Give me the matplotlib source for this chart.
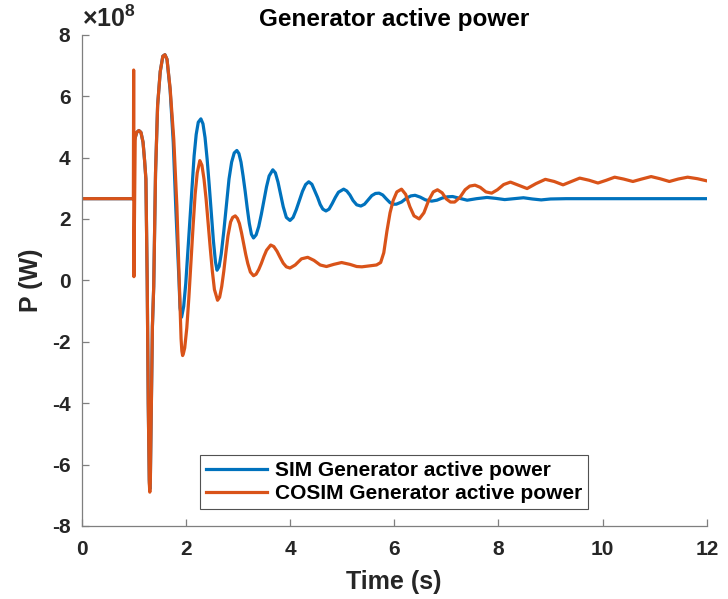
import numpy as np
import matplotlib
matplotlib.use("Agg")
import matplotlib.pyplot as plt
from matplotlib.ticker import FuncFormatter

plt.rcParams["font.family"] = ["Liberation Sans", "DejaVu Sans"]
plt.rcParams["font.weight"] = "bold"
plt.rcParams["axes.unicode_minus"] = False
plt.rcParams["mathtext.fontset"] = "custom"
plt.rcParams["mathtext.rm"] = "Liberation Sans:bold"
plt.rcParams["mathtext.bf"] = "Liberation Sans:bold"

# time (s) and active power (x1e8 W)
sim_t = [0.0, 1.0, 1.005, 1.03, 1.06, 1.10, 1.14, 1.18, 1.21, 1.235, 1.26, 1.28, 1.30, 1.31, 1.32,
         1.34, 1.36, 1.385, 1.42, 1.46, 1.51, 1.56, 1.60, 1.64, 1.70, 1.76, 1.81, 1.87, 1.89, 1.92,
         1.96, 2.00, 2.04, 2.08, 2.12, 2.16, 2.20, 2.24, 2.29, 2.33, 2.37, 2.41, 2.45, 2.49, 2.53,
         2.57, 2.60, 2.64, 2.68, 2.73, 2.78, 2.83, 2.88, 2.93, 2.98, 3.02, 3.06, 3.10, 3.14, 3.18,
         3.22, 3.26, 3.30, 3.35, 3.40, 3.45, 3.50, 3.55, 3.60, 3.67, 3.72, 3.77, 3.82, 3.87, 3.93,
         4.00, 4.06, 4.12, 4.18, 4.24, 4.30, 4.36, 4.42, 4.48, 4.53, 4.58, 4.63, 4.69, 4.75, 4.81,
         4.87, 4.93, 5.03, 5.09, 5.15, 5.21, 5.28, 5.36, 5.43, 5.50, 5.57, 5.64, 5.71, 5.78, 5.85,
         5.92, 5.98, 6.04, 6.14, 6.23, 6.32, 6.40, 6.50, 6.60, 6.72, 6.82, 6.92, 7.02, 7.12, 7.24,
         7.40, 7.58, 7.78, 7.95, 8.12, 8.30, 8.48, 8.65, 8.82, 9.0, 9.3, 12.0]
sim_p = [2.66, 2.66, 4.5, 4.65, 4.82, 4.88, 4.82, 4.5, 3.9, 3.3, 0.0, -4.0, -6.5, -6.8, -6.5,
         -4.0, -1.5, -0.2, 3.5, 5.7, 6.8, 7.3, 7.35, 7.2, 6.2, 4.5, 2.3, 0.0, -0.9, -1.2,
         -0.85, -0.1, 0.95, 2.0, 3.1, 4.05, 4.75, 5.15, 5.26, 5.1, 4.65, 3.95, 3.1, 2.2, 1.3,
         0.6, 0.33, 0.45, 0.85, 1.6, 2.45, 3.3, 3.85, 4.15, 4.23, 4.13, 3.85, 3.4, 2.9, 2.35,
         1.85, 1.5, 1.38, 1.48, 1.75, 2.15, 2.6, 3.05, 3.4, 3.6, 3.5, 3.2, 2.8, 2.4, 2.05,
         1.95, 2.05, 2.3, 2.6, 2.9, 3.12, 3.21, 3.13, 2.9, 2.7, 2.47, 2.32, 2.26, 2.32, 2.5,
         2.7, 2.87, 2.97, 2.91, 2.78, 2.6, 2.46, 2.42, 2.48, 2.62, 2.76, 2.83, 2.84, 2.78, 2.65,
         2.53, 2.48, 2.48, 2.55, 2.67, 2.75, 2.77, 2.71, 2.62, 2.58, 2.61, 2.68, 2.72, 2.73, 2.68,
         2.61, 2.66, 2.7, 2.67, 2.63, 2.66, 2.69, 2.65, 2.62, 2.65, 2.66, 2.66]

cosim_t = [0.0, 0.995, 1.0, 1.005, 1.03, 1.06, 1.10, 1.14, 1.18, 1.21, 1.235, 1.26, 1.28, 1.30,
           1.31, 1.32, 1.34, 1.36, 1.385, 1.42, 1.46, 1.51, 1.56, 1.60, 1.64, 1.70, 1.77, 1.83,
           1.88, 1.91, 1.925, 1.94, 1.955, 1.98, 2.02, 2.06, 2.10, 2.14, 2.18, 2.22, 2.27, 2.31,
           2.35, 2.39, 2.43, 2.47, 2.51, 2.55, 2.61, 2.65, 2.69, 2.73, 2.77, 2.81, 2.86, 2.90,
           2.95, 2.99, 3.03, 3.07, 3.11, 3.15, 3.19, 3.24, 3.30, 3.35, 3.40, 3.45, 3.50, 3.55,
           3.63, 3.69, 3.75, 3.81, 3.87, 3.93, 4.00, 4.10, 4.22, 4.34, 4.46, 4.58, 4.70, 4.84,
           4.99, 5.15, 5.28, 5.38, 5.52, 5.66, 5.74, 5.80, 5.86, 5.92, 5.98, 6.05, 6.14, 6.22,
           6.30, 6.38, 6.48, 6.57, 6.66, 6.75, 6.83, 6.92, 7.00, 7.08, 7.16, 7.26, 7.36, 7.45,
           7.55, 7.65, 7.76, 7.87, 7.98, 8.10, 8.23, 8.38, 8.55, 8.72, 8.90, 9.07, 9.24, 9.40,
           9.56, 9.74, 9.91, 10.07, 10.23, 10.40, 10.58, 10.75, 10.93, 11.10, 11.28, 11.45,
           11.63, 11.82, 12.0]
cosim_p = [2.66, 2.66, 6.85, 0.12, 4.65, 4.82, 4.88, 4.82, 4.5, 3.9, 3.3, 0.0, -4.0, -6.6,
           -6.9, -6.6, -4.0, -1.5, -0.2, 3.5, 5.7, 6.8, 7.3, 7.35, 7.2, 6.25, 4.6, 2.4,
           -0.3, -1.9, -2.3, -2.45, -2.38, -2.2, -1.55, -0.55, 0.6, 1.75, 2.8, 3.5, 3.9, 3.75,
           3.3, 2.65, 1.85, 1.05, 0.3, -0.3, -0.65, -0.55, -0.2, 0.3, 0.9, 1.45, 1.9, 2.05,
           2.1, 2.02, 1.85, 1.55, 1.2, 0.85, 0.55, 0.27, 0.15, 0.2, 0.35, 0.55, 0.78, 0.98,
           1.15, 1.1, 0.95, 0.75, 0.56, 0.44, 0.4, 0.5, 0.7, 0.75, 0.65, 0.5, 0.45, 0.52,
           0.58, 0.52, 0.45, 0.44, 0.47, 0.5, 0.58, 0.9, 1.6, 2.2, 2.6, 2.88, 2.97, 2.8,
           2.4, 2.1, 2.0, 2.2, 2.6, 2.88, 2.95, 2.85, 2.65, 2.55, 2.55, 2.7, 2.95, 3.07,
           3.1, 3.03, 2.88, 2.84, 2.95, 3.12, 3.2, 3.1, 2.99, 3.15, 3.29, 3.22, 3.11, 3.22,
           3.33, 3.26, 3.17, 3.26, 3.36, 3.3, 3.22, 3.3, 3.38, 3.31, 3.22, 3.3,
           3.36, 3.31, 3.24]

x_ticks = [0, 2, 4, 6, 8, 10, 12]
y_ticks = [-8, -6, -4, -2, 0, 2, 4, 6, 8]

fig = plt.figure(figsize=(7.28, 5.99), dpi=100)
ax = fig.add_axes([0.112, 0.122, 0.859, 0.820])

ax.plot(sim_t, np.array(sim_p) * 1e8, color="#0072BD", lw=2.3, label="SIM Generator active power")
ax.plot(cosim_t, np.array(cosim_p) * 1e8, color="#D95319", lw=2.3, label="COSIM Generator active power")

ax.set_xlim(0, 12)
ax.set_ylim(-8e8, 8e8)
ax.set_xticks(x_ticks)
ax.set_yticks([v * 1e8 for v in y_ticks])
ax.yaxis.set_major_formatter(FuncFormatter(lambda v, pos: f"{v / 1e8:g}"))
ax.text(0.0, 1.005, r"$\times$10$^{8}$", transform=ax.transAxes, fontsize=18,
        color="#262626", ha="left", va="bottom")

for s in ["top", "right"]:
    ax.spines[s].set_visible(False)
for s in ["left", "bottom"]:
    ax.spines[s].set_color("#7f7f7f")
    ax.spines[s].set_linewidth(0.9)
ax.tick_params(direction="in", length=5, width=0.9, color="#7f7f7f",
               labelsize=15, labelcolor="#262626")
ax.tick_params(axis="x", pad=10)
ax.tick_params(axis="y", pad=8)

ax.set_title("Generator active power", fontsize=17.5, fontweight="bold", color="black", pad=6)
ax.set_xlabel("Time (s)", fontsize=18, fontweight="bold", color="#262626", labelpad=8)
ax.set_ylabel("P (W)", fontsize=18, fontweight="bold", color="#262626", labelpad=6)

leg = ax.legend(loc="lower center", bbox_to_anchor=(0.5, 0.025), fontsize=15, frameon=True,
                fancybox=False, edgecolor="#262626", handlelength=2.9, borderpad=0.3,
                labelspacing=0.2, handletextpad=0.4, borderaxespad=0.2)
leg.get_frame().set_linewidth(0.8)

fig.savefig("out.png", dpi=100)
